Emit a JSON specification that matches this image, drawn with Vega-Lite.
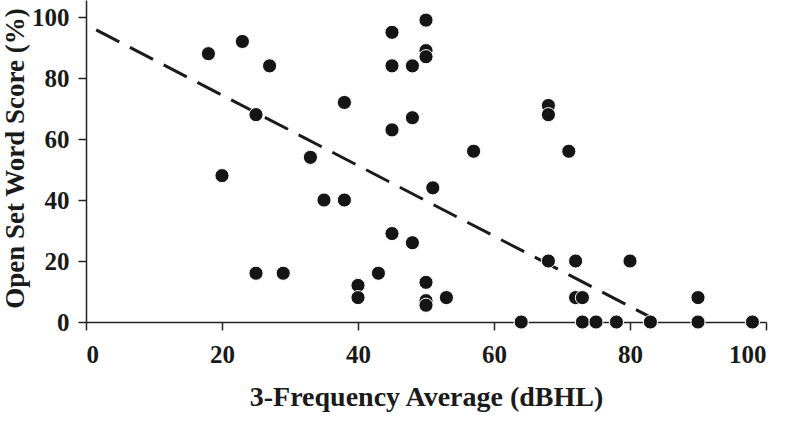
{
  "$schema": "https://vega.github.io/schema/vega-lite/v6.json",
  "width": 680,
  "height": 322,
  "autosize": "none",
  "padding": {"left": 86, "top": 0, "right": 22, "bottom": 104},
  "background": "white",
  "config": {
    "view": {"stroke": null},
    "axis": {
      "grid": false,
      "domainColor": "#222",
      "domainWidth": 1.5,
      "tickColor": "#222",
      "tickWidth": 1.5,
      "tickSize": 8,
      "labelFont": "Liberation Serif",
      "labelFontWeight": "bold",
      "labelFontSize": 25,
      "labelColor": "#1a1a1a",
      "titleFont": "Liberation Serif",
      "titleFontWeight": "bold",
      "titleFontSize": 28,
      "titleColor": "#1a1a1a"
    }
  },
  "datasets": {
    "pts": [
      {"pta": 18, "score": 88}, {"pta": 23, "score": 92}, {"pta": 27, "score": 84},
      {"pta": 25, "score": 68}, {"pta": 20, "score": 48}, {"pta": 25, "score": 16},
      {"pta": 29, "score": 16}, {"pta": 33, "score": 54}, {"pta": 35, "score": 40},
      {"pta": 38, "score": 40}, {"pta": 38, "score": 72}, {"pta": 40, "score": 12},
      {"pta": 40, "score": 8}, {"pta": 43, "score": 16}, {"pta": 45, "score": 95},
      {"pta": 45, "score": 84}, {"pta": 45, "score": 63}, {"pta": 45, "score": 29},
      {"pta": 50, "score": 99}, {"pta": 48, "score": 84}, {"pta": 50, "score": 89},
      {"pta": 50, "score": 87}, {"pta": 48, "score": 67}, {"pta": 57, "score": 56},
      {"pta": 68, "score": 71}, {"pta": 68, "score": 68}, {"pta": 71, "score": 56},
      {"pta": 51, "score": 44}, {"pta": 48, "score": 26}, {"pta": 50, "score": 13},
      {"pta": 50, "score": 7}, {"pta": 50, "score": 5.5}, {"pta": 53, "score": 8},
      {"pta": 64, "score": 0}, {"pta": 68, "score": 20}, {"pta": 72, "score": 20},
      {"pta": 80, "score": 20}, {"pta": 72, "score": 8}, {"pta": 73, "score": 8},
      {"pta": 73, "score": 0}, {"pta": 75, "score": 0}, {"pta": 78, "score": 0},
      {"pta": 83, "score": 0}, {"pta": 90, "score": 8}, {"pta": 90, "score": 0},
      {"pta": 98, "score": 0}
    ],
    "fit": [
      {"pta": 1.5, "score": 95.8},
      {"pta": 83, "score": 1.6}
    ]
  },
  "layer": [
    {
      "data": {"name": "fit"},
      "mark": {"type": "line", "color": "#1a1a1a", "strokeWidth": 3, "strokeDash": [26, 12]},
      "encoding": {
        "x": {"field": "pta", "type": "quantitative"},
        "y": {"field": "score", "type": "quantitative"}
      }
    },
    {
      "data": {"name": "pts"},
      "mark": {"type": "point", "shape": "circle", "filled": true, "size": 200, "fill": "#151515", "fillOpacity": 1, "stroke": "white", "strokeWidth": 1, "opacity": 1},
      "encoding": {
        "x": {
          "field": "pta", "type": "quantitative",
          "scale": {"domain": [0, 100], "nice": false, "zero": false},
          "axis": {"values": [0, 20, 40, 60, 80, 100], "title": "3-Frequency Average (dBHL)", "labelPadding": 12, "titlePadding": 16}
        },
        "y": {
          "field": "score", "type": "quantitative",
          "scale": {"domain": [0, 105.6], "nice": false, "zero": false},
          "axis": {"values": [0, 20, 40, 60, 80, 100], "title": "Open Set Word Score (%)", "labelPadding": 9, "titleX": -57, "titleY": 158, "titleBaseline": "bottom", "titleFontSize": 27}
        }
      }
    }
  ]
}
